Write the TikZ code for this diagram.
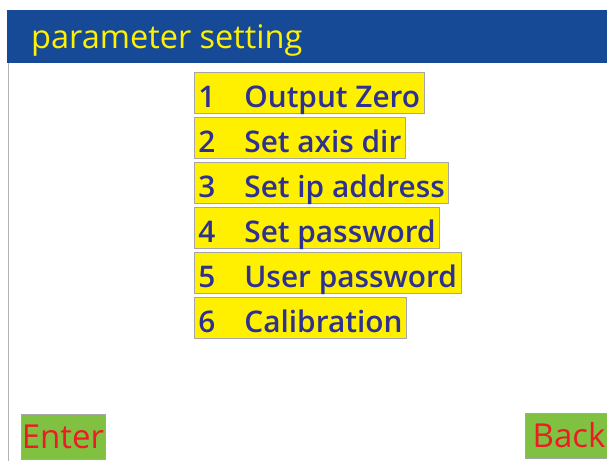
\documentclass[tikz,border=0pt]{standalone}
\usepackage{fontspec}
\setmainfont{Open Sans}
\IfFontExistsTF{Open Sans Semibold}
    {\newfontfamily\itemfont{Open Sans Semibold}}
    {\newfontfamily\itemfont{Open Sans}[UprightFont=*-Bold]}
\definecolor{headblue}{HTML}{164A96}
\definecolor{headyellow}{HTML}{FFF200}
\definecolor{itemyellow}{HTML}{FFF000}
\definecolor{itemblue}{HTML}{2E3192}
\definecolor{keygreen}{HTML}{80C142}
\definecolor{keyred}{HTML}{ED1C24}
\tikzset{
    menubox/.style={anchor=north west, fill=itemyellow, draw=gray!70, line width=0.8pt,
        inner xsep=4pt, inner ysep=0pt, text height=35pt, text depth=6.3pt,
        text=itemblue, font=\fontsize{29.8}{29.8}\itemfont},
    keybox/.style={fill=keygreen, draw=gray!70, line width=0.8pt, inner sep=0pt,
        minimum width=84pt, minimum height=45pt, text=keyred,
        font=\fontsize{33}{33}\selectfont}
}
\begin{document}
\begin{tikzpicture}[x=1pt,y=-1pt]
    \useasboundingbox (0,0) rectangle (607,461);

    % title bar
    \fill[headblue] (7,10) rectangle (607,63);
    \draw[gray!60, line width=1pt] (8,63) -- (8,461);
    \node[anchor=base west, inner sep=0pt, text=headyellow,
        font=\fontsize{32.5}{32.5}\selectfont] (title) at (31,48.3) {parameter setting};

    % menu
    \foreach \i/\t in {1/Output Zero,2/Set axis dir,3/Set ip address,
                       4/Set password,5/User password,6/Calibration}
    {
        \node[menubox] (item\i) at (194,{71.7+45*(\i-1)}) {\makebox[46pt][l]{\i}\t};
    }

    % keys
    \node[keybox] (enter) at (63,436.5) {Enter};
    \node[keybox, minimum width=82pt] (back) at (566,435.5) {\hspace*{6pt}Back};
\end{tikzpicture}
\end{document}
